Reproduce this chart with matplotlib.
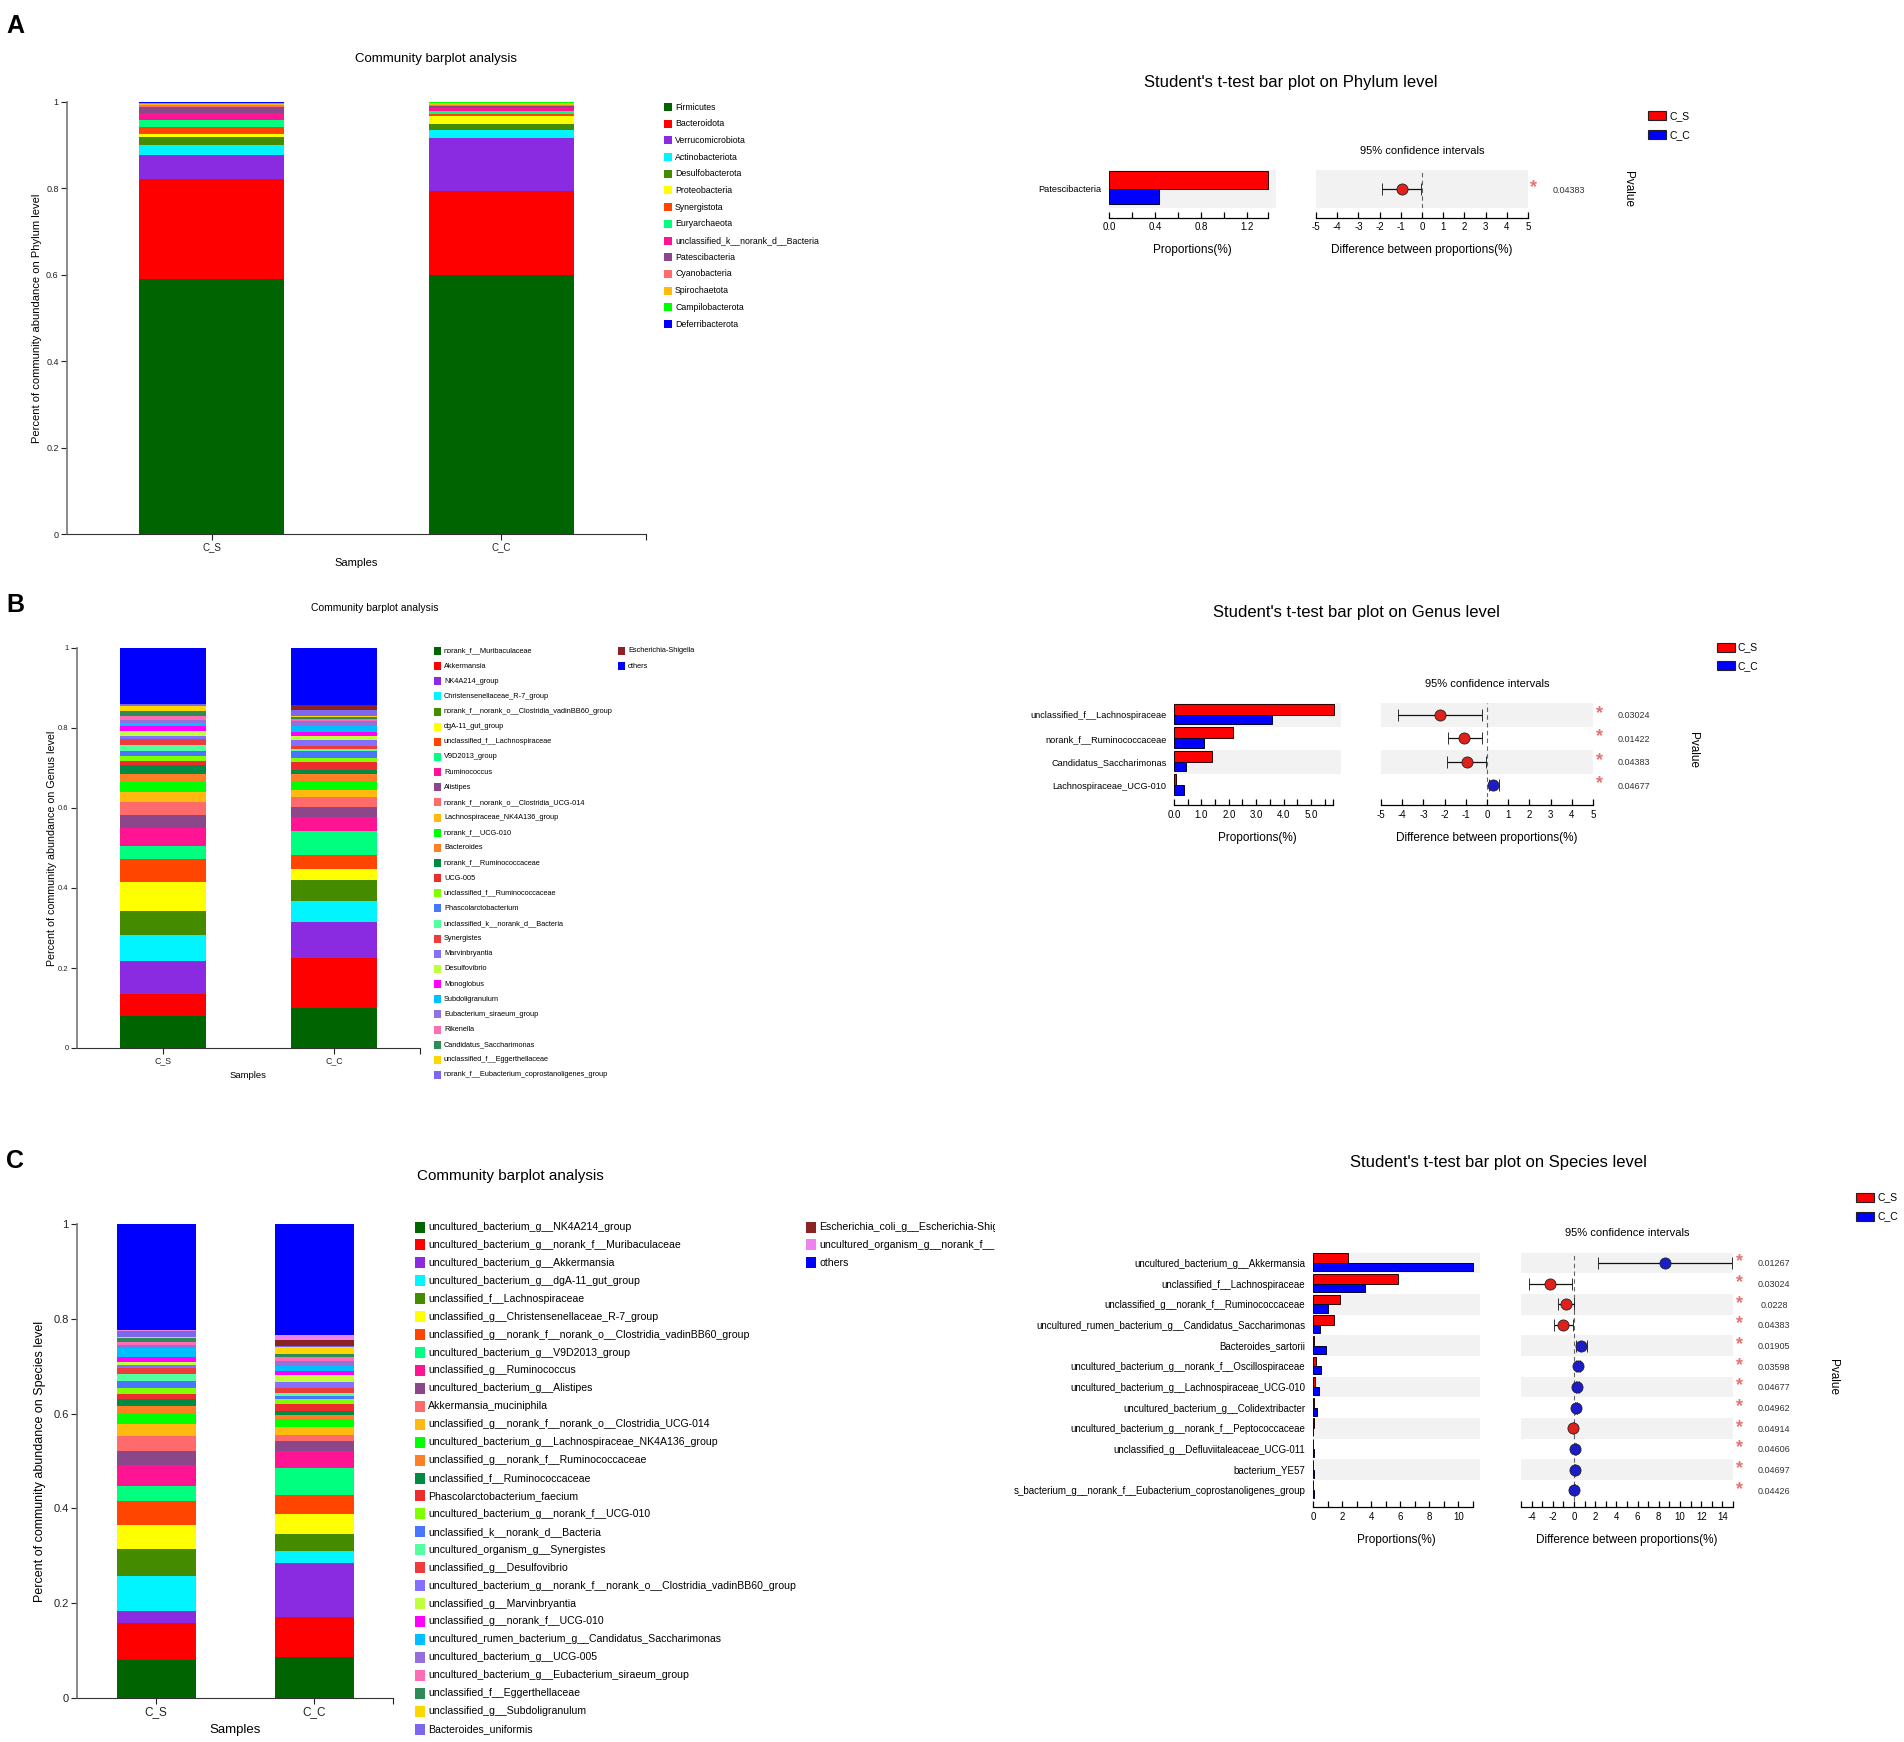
import numpy as np
import matplotlib
matplotlib.use('Agg')
import matplotlib.pyplot as plt
from matplotlib.patches import Rectangle
from matplotlib.transforms import Bbox, TransformedBbox, blended_transform_factory

plt.rcParams['font.family'] = ['Liberation Sans', 'DejaVu Sans']

W, H = 1904, 1742  # figure size in pixels (dpi 100)

samples = ['C_S', 'C_C']
pct_ticks = [0, 0.2, 0.4, 0.6, 0.8, 1.0]
pct_labels = ['0', '0.2', '0.4', '0.6', '0.8', '1']

palette = ['#006400', '#FF0000', '#8A2BE2', '#00F5FF', '#458B00', '#FFFF00', '#FF4500',
           '#00FF7F', '#FF1493', '#8B4789', '#FF6A6A', '#FFB90F', '#00FF00', '#FF7F24',
           '#008B45', '#EE2C2C', '#7FFF00', '#4876FF', '#54FF9F', '#EE3B3B', '#8470FF',
           '#C0FF3E', '#FF00FF', '#00BFFF', '#9370DB', '#FF6EB4', '#2E8B57', '#FFD700',
           '#7B68EE']

# ---------------- A: phylum ----------------
phylum_names = ['Firmicutes', 'Bacteroidota', 'Verrucomicrobiota', 'Actinobacteriota',
                'Desulfobacterota', 'Proteobacteria', 'Synergistota', 'Euryarchaeota',
                'unclassified_k__norank_d__Bacteria', 'Patescibacteria', 'Cyanobacteria',
                'Spirochaetota', 'Campilobacterota', 'Deferribacterota']
phylum_cs = [0.590, 0.232, 0.056, 0.022, 0.018, 0.009, 0.016, 0.016, 0.015, 0.014,
             0.005, 0.003, 0.002, 0.001]
phylum_cc = [0.600, 0.193, 0.124, 0.018, 0.013, 0.020, 0.004, 0.008, 0.007, 0.004,
             0.003, 0.003, 0.002, 0.001]
phylum_colors = palette[:13] + ['#0000FF']

# ---------------- B: genus ----------------
genus_names = ['norank_f__Muribaculaceae', 'Akkermansia', 'NK4A214_group',
               'Christensenellaceae_R-7_group', 'norank_f__norank_o__Clostridia_vadinBB60_group',
               'dgA-11_gut_group', 'unclassified_f__Lachnospiraceae', 'V9D2013_group',
               'Ruminococcus', 'Alistipes', 'norank_f__norank_o__Clostridia_UCG-014',
               'Lachnospiraceae_NK4A136_group', 'norank_f__UCG-010', 'Bacteroides',
               'norank_f__Ruminococcaceae', 'UCG-005', 'unclassified_f__Ruminococcaceae',
               'Phascolarctobacterium', 'unclassified_k__norank_d__Bacteria', 'Synergistes',
               'Marvinbryantia', 'Desulfovibrio', 'Monoglobus', 'Subdoligranulum',
               'Eubacterium_siraeum_group', 'Rikenella', 'Candidatus_Saccharimonas',
               'unclassified_f__Eggerthellaceae', 'norank_f__Eubacterium_coprostanoligenes_group',
               'Escherichia-Shigella', 'others']
genus_cs = [0.079, 0.057, 0.082, 0.064, 0.061, 0.073, 0.057, 0.031, 0.046, 0.033, 0.033,
            0.025, 0.023, 0.022, 0.021, 0.011, 0.013, 0.012, 0.015, 0.015, 0.008, 0.012,
            0.011, 0.009, 0.006, 0.010, 0.014, 0.011, 0.005, 0.001, 0.140]
genus_cc = [0.100, 0.125, 0.090, 0.052, 0.054, 0.027, 0.035, 0.059, 0.036, 0.025, 0.025,
            0.018, 0.021, 0.018, 0.011, 0.018, 0.011, 0.018, 0.005, 0.008, 0.015, 0.010,
            0.008, 0.015, 0.013, 0.006, 0.004, 0.004, 0.015, 0.012, 0.142]
genus_colors = palette[:29] + ['#8B2323', '#0000FF']

# ---------------- C: species ----------------
species_names = ['uncultured_bacterium_g__NK4A214_group',
                 'uncultured_bacterium_g__norank_f__Muribaculaceae',
                 'uncultured_bacterium_g__Akkermansia',
                 'uncultured_bacterium_g__dgA-11_gut_group',
                 'unclassified_f__Lachnospiraceae',
                 'unclassified_g__Christensenellaceae_R-7_group',
                 'unclassified_g__norank_f__norank_o__Clostridia_vadinBB60_group',
                 'uncultured_bacterium_g__V9D2013_group',
                 'unclassified_g__Ruminococcus',
                 'uncultured_bacterium_g__Alistipes',
                 'Akkermansia_muciniphila',
                 'unclassified_g__norank_f__norank_o__Clostridia_UCG-014',
                 'uncultured_bacterium_g__Lachnospiraceae_NK4A136_group',
                 'unclassified_g__norank_f__Ruminococcaceae',
                 'unclassified_f__Ruminococcaceae',
                 'Phascolarctobacterium_faecium',
                 'uncultured_bacterium_g__norank_f__UCG-010',
                 'unclassified_k__norank_d__Bacteria',
                 'uncultured_organism_g__Synergistes',
                 'unclassified_g__Desulfovibrio',
                 'uncultured_bacterium_g__norank_f__norank_o__Clostridia_vadinBB60_group',
                 'unclassified_g__Marvinbryantia',
                 'unclassified_g__norank_f__UCG-010',
                 'uncultured_rumen_bacterium_g__Candidatus_Saccharimonas',
                 'uncultured_bacterium_g__UCG-005',
                 'uncultured_bacterium_g__Eubacterium_siraeum_group',
                 'unclassified_f__Eggerthellaceae',
                 'unclassified_g__Subdoligranulum',
                 'Bacteroides_uniformis',
                 'Escherichia_coli_g__Escherichia-Shigella',
                 'uncultured_organism_g__norank_f__',
                 'others']
species_cs = [0.081, 0.078, 0.024, 0.074, 0.058, 0.050, 0.051, 0.031, 0.045, 0.029, 0.031,
              0.026, 0.023, 0.016, 0.014, 0.010, 0.012, 0.015, 0.016, 0.012, 0.007, 0.005,
              0.012, 0.018, 0.006, 0.007, 0.008, 0.003, 0.012, 0.001, 0.001, 0.224]
species_cc = [0.087, 0.084, 0.113, 0.027, 0.035, 0.042, 0.040, 0.057, 0.036, 0.021, 0.012,
              0.018, 0.016, 0.008, 0.010, 0.014, 0.011, 0.006, 0.006, 0.010, 0.014, 0.015,
              0.007, 0.011, 0.012, 0.008, 0.006, 0.014, 0.003, 0.013, 0.010, 0.234]
species_colors = palette[:29] + ['#8B2323', '#EE82EE', '#0000FF']

# ---------------- t-test data ----------------
ttA_rows = ['Patescibacteria']
ttA_cs = [1.383]
ttA_cc = [0.432]
ttA_diff = [-0.94]
ttA_lo = [-1.89]
ttA_hi = [-0.03]
ttA_p = ['0.04383']

ttB_rows = ['unclassified_f__Lachnospiraceae', 'norank_f__Ruminococcaceae',
            'Candidatus_Saccharimonas', 'Lachnospiraceae_UCG-010']
ttB_cs = [5.85, 2.15, 1.40, 0.09]
ttB_cc = [3.57, 1.09, 0.43, 0.38]
ttB_diff = [-2.24, -1.07, -0.96, 0.30]
ttB_lo = [-4.20, -1.83, -1.89, 0.08]
ttB_hi = [-0.25, -0.25, -0.03, 0.55]
ttB_p = ['0.03024', '0.01422', '0.04383', '0.04677']

ttC_rows = ['uncultured_bacterium_g__Akkermansia', 'unclassified_f__Lachnospiraceae',
            'unclassified_g__norank_f__Ruminococcaceae',
            'uncultured_rumen_bacterium_g__Candidatus_Saccharimonas', 'Bacteroides_sartorii',
            'uncultured_bacterium_g__norank_f__Oscillospiraceae',
            'uncultured_bacterium_g__Lachnospiraceae_UCG-010',
            'uncultured_bacterium_g__Colidextribacter',
            'uncultured_bacterium_g__norank_f__Peptococcaceae',
            'unclassified_g__Defluviitaleaceae_UCG-011', 'bacterium_YE57',
            's_bacterium_g__norank_f__Eubacterium_coprostanoligenes_group']
ttC_cs = [2.44, 5.84, 1.88, 1.44, 0.10, 0.20, 0.12, 0.08, 0.08, 0.03, 0.02, 0.01]
ttC_cc = [11.04, 3.60, 1.04, 0.48, 0.88, 0.52, 0.44, 0.28, 0.03, 0.10, 0.08, 0.05]
ttC_diff = [8.60, -2.30, -0.80, -1.00, 0.70, 0.38, 0.33, 0.20, -0.05, 0.10, 0.07, 0.04]
ttC_lo = [2.30, -4.20, -1.50, -1.85, 0.16, 0.20, 0.15, 0.10, -0.09, 0.05, 0.03, 0.02]
ttC_hi = [14.90, -0.16, -0.02, -0.05, 1.20, 0.55, 0.50, 0.32, -0.01, 0.15, 0.11, 0.07]
ttC_p = ['0.01267', '0.03024', '0.0228', '0.04383', '0.01905', '0.03598', '0.04677',
         '0.04962', '0.04914', '0.04606', '0.04697', '0.04426']

fig = plt.figure(figsize=(W / 100, H / 100), dpi=100)


def px_axes(x0, y0, x1, y1):
    return fig.add_axes([x0 / W, 1 - y1 / H, (x1 - x0) / W, (y1 - y0) / H])


def ftext(x, y, s, **kw):
    return fig.text(x / W, 1 - y / H, s, **kw)


def legend_column(names, colors, x, y0, dy, sw, sh, fs, edge='none', clip_x=None):
    for i, (name, col) in enumerate(zip(names, colors)):
        y = y0 + i * dy
        fig.patches.append(Rectangle((x / W, 1 - (y + sh / 2) / H), sw / W, sh / H,
                                     transform=fig.transFigure, facecolor=col,
                                     edgecolor=edge, linewidth=0.8))
        t = ftext(x + sw + 3, y, name, fontsize=fs, va='center', ha='left')
        if clip_x is not None:
            t.set_clip_box(TransformedBbox(Bbox.from_extents(0, 0, clip_x / W, 1),
                                           fig.transFigure))
            t.set_clip_on(True)


def community(box, cs, cc, colors, level, fs, ylab_x, xlab_y):
    x0, y0, x1, y1 = box
    ax = px_axes(*box)
    bottom = np.zeros(2)
    for a, b, col in zip(cs, cc, colors):
        h = np.array([a, b])
        ax.bar([0.5, 1.5], h, width=0.5, bottom=bottom, color=col, linewidth=0)
        bottom += h
    ax.set_xlim(0, 2)
    ax.set_ylim(0, 1)
    ax.set_xticks([0.5, 1.5])
    ax.set_xticklabels(samples, fontsize=fs['xtick'])
    ax.set_xticks([2.0], minor=True)
    ax.set_yticks(pct_ticks)
    ax.set_yticklabels(pct_labels, fontsize=fs['tick'])
    ax.tick_params(which='both', direction='out', length=4, width=0.8, pad=2, colors='#222222')
    ax.spines['top'].set_visible(False)
    ax.spines['right'].set_visible(False)
    ax.spines['left'].set_color('#777777')
    ax.spines['left'].set_linewidth(1.2)
    ax.spines['bottom'].set_color('#333333')
    ax.set_ylabel('Percent of community abundance on %s level' % level, fontsize=fs['ylab'])
    ax.yaxis.label.set_va('center')
    ax.yaxis.set_label_coords((ylab_x - x0) / (x1 - x0), 0.5)
    ax.set_xlabel('Samples', fontsize=fs['xlab'])
    ax.xaxis.label.set_va('center')
    ax.xaxis.set_label_coords(0.5, -(xlab_y - y1) / (y1 - y0))
    return ax


def ttest(rows, cs, cc, diff, lo, hi, pvals, pbox, cbox, pxlim, pend, pmaj, pmaj_lab,
          pmin, cxlim, cmaj, cmaj_lab, cmin, fs_row, off, title, title_xy, leg_xy):
    n = len(rows)
    y = np.arange(n)
    axp = px_axes(*pbox)
    axc = px_axes(*cbox)
    for ax in (axp, axc):
        ax.set_ylim(n - 0.5, -0.5)
        for i in range(0, n, 2):
            ax.axhspan(i - 0.5, i + 0.5, color='#F2F2F2', lw=0, zorder=0)
        for s in ('top', 'right', 'left'):
            ax.spines[s].set_visible(False)
        ax.spines['bottom'].set_position(('outward', off))
        ax.spines['bottom'].set_linewidth(0.9)
        ax.tick_params(axis='x', which='both', direction='in', length=4.5, width=0.9,
                       labelsize=7, pad=3)
    axp.barh(y - 0.235, cs, height=0.47, color='#FF0000', edgecolor='#2a0000', lw=0.7, zorder=2)
    axp.barh(y + 0.2, cc, height=0.4, color='#0000FF', edgecolor='#00002a', lw=0.7, zorder=2)
    axp.set_xlim(*pxlim)
    axp.spines['bottom'].set_bounds(0, pend)
    axp.set_xticks(pmaj)
    axp.set_xticklabels(pmaj_lab)
    axp.set_xticks(pmin, minor=True)
    axp.set_yticks(y)
    axp.set_yticklabels(rows, fontsize=fs_row)
    axp.tick_params(axis='y', length=0, pad=5.5)
    axp.set_xlabel('Proportions(%)', fontsize=8.5, labelpad=9)

    axc.set_xlim(*cxlim)
    axc.axvline(0, color='#666666', lw=0.8, ls=(0, (4, 3)), zorder=1)
    for i in range(n):
        col = '#E0201B' if diff[i] < 0 else '#1C1CC8'
        axc.errorbar(diff[i], i, xerr=[[diff[i] - lo[i]], [hi[i] - diff[i]]], fmt='o',
                     color=col, ecolor='#111111', elinewidth=0.9, capsize=4.3, capthick=0.9,
                     ms=8, mec='#222222', mew=0.6, zorder=3)
    axc.set_yticks([])
    axc.set_xticks(cmaj)
    axc.set_xticklabels(cmaj_lab)
    axc.set_xticks(cmin, minor=True)
    axc.set_xlabel('Difference between proportions(%)', fontsize=8.5, labelpad=9)
    axc.annotate('95% confidence intervals', xy=(0.5, 1), xycoords='axes fraction',
                 xytext=(0, 14), textcoords='offset points', ha='center', va='center',
                 fontsize=8)
    wpx = cbox[2] - cbox[0]
    tr = blended_transform_factory(axc.transAxes, axc.transData)
    for i in range(n):
        axc.text(1 + 6 / wpx, i - 0.05, '*', transform=tr, color='#E57373', fontsize=13,
                 fontweight='bold', ha='center', va='center', clip_on=False)
        axc.text(1 + 41 / wpx, i + 0.05, pvals[i], transform=tr, color='#333333', fontsize=6.5,
                 ha='center', va='center', clip_on=False)
    axc.annotate('Pvalue', xy=(1, 0.5), xycoords='axes fraction', xytext=(100 * 0.72, 0),
                 textcoords='offset points', rotation=-90, ha='center', va='center',
                 fontsize=8.5)
    ftext(title_xy[0], title_xy[1], title, fontsize=12, ha='center', va='center')
    legend_column(samples, ['#FF0000', '#0000FF'], leg_xy[0], leg_xy[1], 19, 18, 9, 7.5,
                  edge='#222222')


# ---------- panel letters ----------
for letter, ly in (('A', 26), ('B', 605), ('C', 1161)):
    ftext(6, ly, letter, fontsize=18, fontweight='bold', ha='left', va='center')

# ---------- A ----------
community((67, 102, 646, 534), phylum_cs, phylum_cc, phylum_colors, 'Phylum',
          dict(tick=6.5, xtick=7, ylab=8, xlab=8), 37, 563)
ftext(436, 59, 'Community barplot analysis', fontsize=9.5, ha='center', va='center')
legend_column(phylum_names, phylum_colors, 664, 107, 16.7, 8, 8, 6.3)

ttest(ttA_rows, ttA_cs, ttA_cc, ttA_diff, ttA_lo, ttA_hi, ttA_p,
      (1109, 170, 1276, 208), (1316, 170, 1528, 208),
      (0, 1.45), 1.383, [0, 0.4, 0.8, 1.2], ['0.0', '0.4', '0.8', '1.2'],
      [0.2, 0.6, 1.0, 1.383],
      (-5, 5), list(range(-5, 6)), [str(v) for v in range(-5, 6)], [],
      6.6, 7, "Student's t-test bar plot on Phylum level", (1291, 82), (1648, 116))

# ---------- B ----------
community((77, 648, 420, 1048), genus_cs, genus_cc, genus_colors, 'Genus',
          dict(tick=5.5, xtick=6.3, ylab=7.7, xlab=6.8), 52, 1076)
ftext(375, 608, 'Community barplot analysis', fontsize=7.5, ha='center', va='center')
legend_column(genus_names[:29], genus_colors[:29], 434, 651, 15.14, 7, 8, 5.3)
legend_column(genus_names[29:], genus_colors[29:], 618, 651, 15.14, 7, 8, 5.3)

ttest(ttB_rows, ttB_cs, ttB_cc, ttB_diff, ttB_lo, ttB_hi, ttB_p,
      (1174, 703, 1341, 797), (1381, 703, 1593, 797),
      (0, 6.1), 5.81, [0, 1, 2, 3, 4, 5], ['0.0', '1.0', '2.0', '3.0', '4.0', '5.0'],
      [0.5, 1.5, 2.5, 3.5, 4.5, 5.5, 5.81],
      (-5, 5), list(range(-5, 6)), [str(v) for v in range(-5, 6)], [],
      6.6, 6, "Student's t-test bar plot on Genus level", (1356, 613), (1717, 647))

# ---------- C ----------
community((77, 1224, 393, 1698), species_cs, species_cc, species_colors, 'Species',
          dict(tick=8, xtick=8.5, ylab=9, xlab=9.5), 40, 1730)
ftext(510, 1176, 'Community barplot analysis', fontsize=11, ha='center', va='center')
legend_column(species_names[:29], species_colors[:29], 415, 1227, 17.93, 10, 11, 7.6)
legend_column(species_names[29:], species_colors[29:], 806, 1227, 17.93, 10, 11, 7.6,
              clip_x=995)

ttest(ttC_rows, ttC_cs, ttC_cc, ttC_diff, ttC_lo, ttC_hi, ttC_p,
      (1313, 1252.6, 1480, 1500.5), (1521, 1252.6, 1733, 1500.5),
      (0, 11.5), 11.0, [0, 2, 4, 6, 8, 10], ['0', '2', '4', '6', '8', '10'],
      [1, 3, 5, 7, 9, 11],
      (-5, 15), list(range(-4, 15, 2)), [str(v) for v in range(-4, 15, 2)],
      list(range(-5, 16, 2)),
      7, 5, "Student's t-test bar plot on Species level", (1498, 1163), (1856, 1197))

fig.savefig('out.png', dpi=100)
